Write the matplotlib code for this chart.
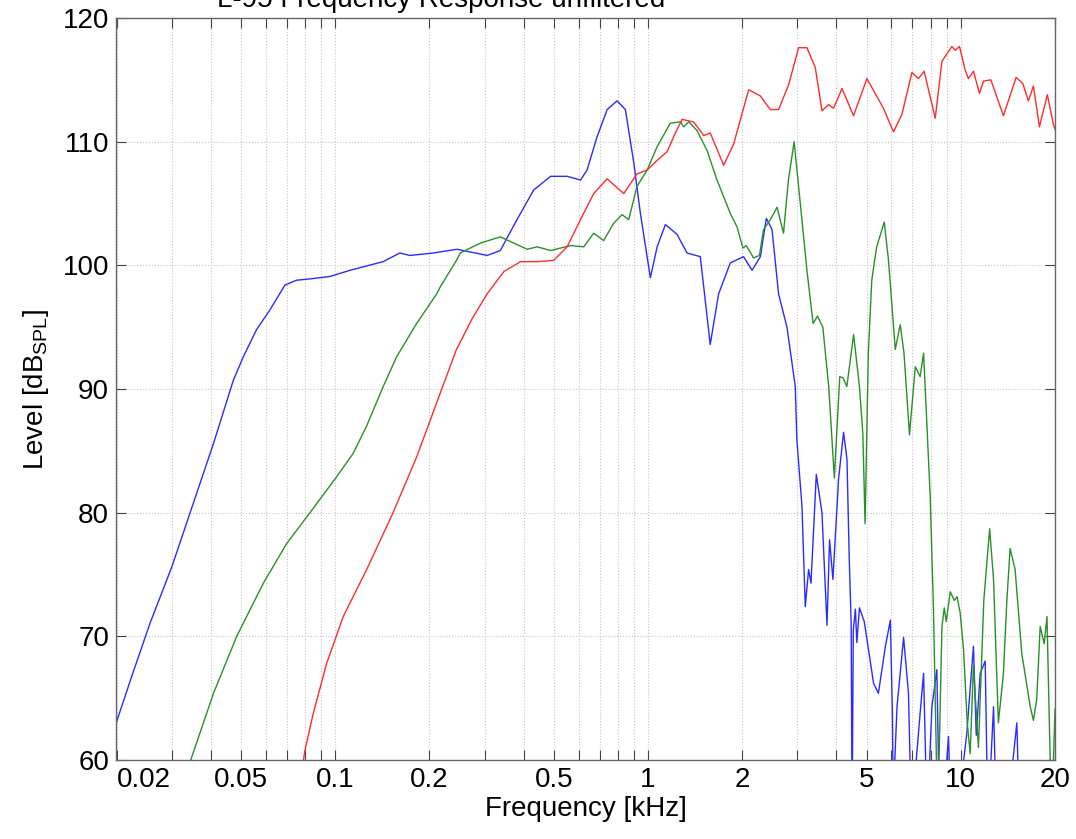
import matplotlib
matplotlib.use("Agg")
import matplotlib.pyplot as plt
from matplotlib.ticker import FixedLocator, FixedFormatter, NullFormatter

plt.rcParams['font.family'] = ['Liberation Sans', 'DejaVu Sans']
plt.rcParams['mathtext.default'] = 'regular'

# ── data (frequency in kHz, level in dB SPL) ──────────────────────────────────
freq_blue = [0.0198, 0.0203, 0.0223, 0.0256, 0.030, 0.0352, 0.0408, 0.0472, 0.0508,
             0.0560, 0.0618, 0.0690, 0.0752, 0.0828, 0.0961, 0.1114, 0.1423, 0.1608,
             0.1731, 0.2057, 0.245, 0.306, 0.337, 0.381, 0.431, 0.488, 0.551, 0.608,
             0.638, 0.687, 0.740, 0.796, 0.846, 0.900, 0.945, 1.017, 1.069, 1.136,
             1.238, 1.332, 1.469, 1.58, 1.681, 1.832, 2.02, 2.15, 2.285, 2.388, 2.49,
             2.613, 2.78, 2.955, 2.99, 3.105, 3.181, 3.26, 3.318, 3.45, 3.597, 3.732,
             3.804, 3.899, 4.064, 4.217, 4.324, 4.40, 4.46, 4.49, 4.53, 4.60, 4.65,
             4.74, 4.91, 5.26, 5.45, 5.73, 5.95, 6.04, 6.09, 6.15, 6.25, 6.56, 6.80,
             6.95, 7.20, 7.41, 7.60, 7.80, 7.95, 8.08, 8.38, 8.55, 8.90, 9.13, 9.30,
             10.0, 10.45, 10.97, 11.2, 11.53, 11.96, 12.2, 12.72, 13.0, 14.4, 15.10,
             15.4, 20.0]
lev_blue = [62.8, 63.6, 66.7, 71.1, 75.6, 80.8, 85.6, 90.7, 92.6,
            94.8, 96.4, 98.4, 98.8, 98.9, 99.1, 99.6, 100.3, 101.0,
            100.8, 101.0, 101.3, 100.8, 101.2, 103.7, 106.1, 107.2, 107.2, 106.9,
            107.7, 110.4, 112.6, 113.3, 112.6, 108.3, 104.2, 99.0, 101.5, 103.3,
            102.5, 101.0, 100.7, 93.6, 97.7, 100.2, 100.7, 99.6, 100.7, 103.8, 102.9,
            97.7, 95.0, 90.2, 85.9, 80.5, 72.4, 75.4, 74.3, 83.1, 80.0, 70.9,
            77.8, 74.6, 82.7, 86.5, 84.3, 76.0, 71.0, 55.0, 70.5, 72.2, 69.5,
            72.3, 71.2, 66.2, 65.4, 69.1, 71.3, 64.0, 55.0, 60.0, 64.3, 69.9, 65.4,
            55.0, 60.0, 63.8, 67.0, 55.0, 60.0, 64.3, 67.3, 55.0, 58.0, 61.9, 55.0,
            58.0, 62.2, 69.2, 62.0, 67.0, 68.0, 55.0, 64.3, 55.0, 58.0, 63.0,
            55.0, 55.0]

freq_green = [0.0335, 0.0345, 0.0408, 0.0484, 0.0589, 0.0699, 0.083, 0.101, 0.1141,
              0.1259, 0.1423, 0.157, 0.182, 0.211, 0.217, 0.244, 0.251, 0.291, 0.337,
              0.372, 0.411, 0.442, 0.488, 0.565, 0.623, 0.670, 0.721, 0.776, 0.826,
              0.867, 0.922, 0.993, 1.069, 1.178, 1.268, 1.30, 1.349, 1.434, 1.543,
              1.661, 1.832, 1.925, 2.01, 2.06, 2.174, 2.27, 2.34, 2.46, 2.585, 2.71,
              2.81, 2.93, 3.067, 3.22, 3.37, 3.48, 3.62, 3.78, 3.94, 4.10, 4.20, 4.32,
              4.54, 4.74, 4.86, 4.94, 5.06, 5.19, 5.38, 5.69, 5.87, 6.17, 6.40, 6.58,
              6.85, 7.15, 7.41, 7.60, 7.98, 8.17, 8.43, 8.70, 8.85, 8.98, 9.25, 9.53,
              9.72, 9.95, 10.20, 10.48, 10.71, 10.97, 11.38, 11.84, 12.36, 12.72,
              13.18, 13.68, 14.03, 14.37, 14.91, 15.66, 16.67, 17.06, 17.48, 17.93,
              18.47, 18.85, 19.5, 20.0]
lev_green = [58.5, 60.0, 65.4, 70.0, 74.3, 77.5, 80.0, 82.9, 84.8,
             87.0, 90.2, 92.6, 95.3, 97.7, 98.3, 100.4, 101.0, 101.8, 102.3,
             101.8, 101.3, 101.5, 101.2, 101.6, 101.5, 102.6, 102.0, 103.4, 104.1,
             103.7, 106.4, 107.7, 109.6, 111.5, 111.6, 111.2, 111.6, 110.9, 109.3,
             106.9, 104.2, 103.1, 101.4, 101.6, 100.6, 100.8, 102.9, 103.7, 104.7, 102.6,
             106.9, 110.0, 105.0, 99.6, 95.3, 95.9, 95.0, 90.2, 82.8, 91.0, 90.9, 90.2,
             94.4, 90.2, 86.4, 79.1, 92.9, 98.8, 101.5, 103.5, 100.4, 93.2, 95.2, 92.9,
             86.3, 91.8, 91.0, 92.9, 81.3, 72.4, 55.0, 70.8, 72.3, 71.2, 73.6, 72.9,
             73.2, 71.9, 68.9, 63.0, 60.5, 67.6, 61.0, 72.9, 78.7, 74.6,
             63.0, 67.0, 72.9, 77.1, 75.4, 68.6, 64.3, 63.2, 64.9, 70.8,
             69.4, 71.6, 55.0, 64.1]

freq_red = [0.078, 0.080, 0.0851, 0.0938, 0.106, 0.126, 0.153, 0.182, 0.211, 0.244,
            0.274, 0.306, 0.346, 0.391, 0.442, 0.499, 0.551, 0.608, 0.670, 0.740,
            0.836, 0.922, 0.993, 1.069, 1.151, 1.222, 1.284, 1.399, 1.505, 1.581,
            1.744, 1.877, 2.097, 2.285, 2.459, 2.614, 2.814, 3.029, 3.221, 3.424,
            3.597, 3.776, 3.917, 4.168, 4.538, 5.008, 5.657, 6.091, 6.479, 6.975,
            7.32, 7.63, 8.28, 8.70, 9.36, 9.59, 9.90, 10.32, 10.57, 10.97, 11.47,
            11.81, 12.47, 13.68, 15.02, 15.78, 16.44, 17.06, 17.83, 18.91, 19.76, 20.0]
lev_red = [59.0, 60.8, 63.8, 67.8, 71.6, 75.4, 80.0, 84.5, 88.9, 93.2,
           95.7, 97.7, 99.5, 100.3, 100.3, 100.4, 101.5, 103.7, 105.8, 107.0,
           105.8, 107.4, 107.7, 108.5, 109.2, 110.7, 111.8, 111.6, 110.5, 110.7,
           108.1, 109.8, 114.2, 113.7, 112.6, 112.6, 114.6, 117.6, 117.6, 116.0,
           112.5, 113.0, 112.7, 114.3, 112.1, 115.1, 112.7, 110.8, 112.2, 115.6,
           115.1, 115.7, 111.9, 116.5, 117.7, 117.4, 117.7, 115.8, 115.1, 115.7, 113.9,
           114.9, 115.0, 112.1, 115.2, 114.7, 113.3, 114.5, 111.2, 113.8, 111.4, 111.0]

major_ticks = [0.02, 0.05, 0.1, 0.2, 0.5, 1, 2, 5, 10, 20]
major_labels = ["0.02", "0.05", "0.1", "0.2", "0.5", "1", "2", "5", "10", "20"]
minor_ticks = [0.03, 0.04, 0.06, 0.07, 0.08, 0.09, 0.3, 0.4, 0.6, 0.7, 0.8, 0.9,
               3, 4, 6, 7, 8, 9]

fig = plt.figure(figsize=(10.76, 8.39), dpi=100)
ax = fig.add_axes([0.1078, 0.0942, 0.8727, 0.8843])

ax.plot(freq_blue, lev_blue, color="#2b2bff", lw=1.0)
ax.plot(freq_green, lev_green, color="#2a8f2a", lw=1.0)
ax.plot(freq_red, lev_red, color="#ff2b2b", lw=1.0)

ax.set_xscale("log")
ax.set_xlim(0.0199, 20)
ax.set_ylim(60, 120)
ax.xaxis.set_major_locator(FixedLocator(major_ticks))
ax.xaxis.set_major_formatter(FixedFormatter(major_labels))
ax.xaxis.set_minor_locator(FixedLocator(minor_ticks))
ax.xaxis.set_minor_formatter(NullFormatter())
ax.set_yticks([60, 70, 80, 90, 100, 110, 120])

ax.tick_params(which="both", direction="in", top=True, right=True,
               length=7, width=0.8, color="#444444", labelsize=20, pad=5)
ax.grid(True, which="both", axis="x", ls=":", color="#c4c4c4", lw=0.8)
ax.grid(True, which="major", axis="y", ls=":", color="#c4c4c4", lw=0.8)
for sp in ax.spines.values():
    sp.set_color("#666666")
    sp.set_linewidth(1.0)

# first x label sits to the right of the axis corner
lab0 = ax.get_xticklabels()[0]
lab0.set_horizontalalignment("left")

ax.set_xlabel("Frequency [kHz]", fontsize=20, labelpad=2)
ax.set_ylabel("Level [dB$_{SPL}$]", fontsize=20, labelpad=8)

fig.text(441 / 1076, 1 - 7 / 839, "L-95 Frequency Response unfiltered",
         ha="center", va="baseline", fontsize=20)

fig.savefig("out.png", dpi=100)
